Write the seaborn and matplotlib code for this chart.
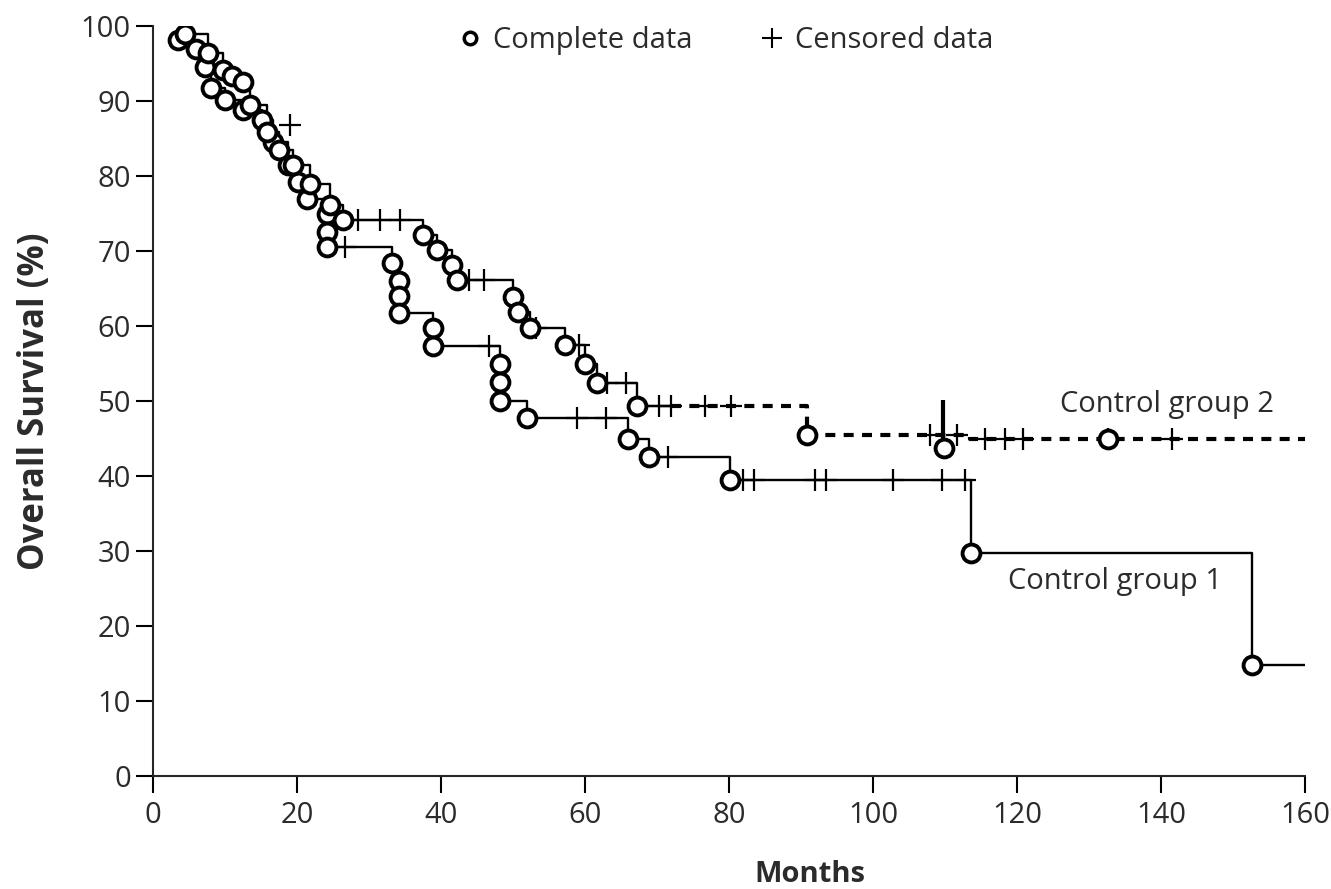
import matplotlib
matplotlib.use("Agg")
import matplotlib.pyplot as plt
import numpy as np
import pandas as pd
import seaborn as sns
from matplotlib.lines import Line2D

# Control group 1: Kaplan-Meier steps (months, % surviving after the step)
g1_time = [3.5, 6.0, 7.2, 8.1, 10.0, 12.5, 15.1, 16.7, 18.8, 20.1, 21.4, 24.2, 24.2, 24.2,
           33.2, 34.2, 34.2, 34.2, 38.9, 38.9, 48.2, 48.2, 48.2, 52.0, 66.0, 68.9, 80.1,
           113.6, 152.6, 160.0]
g1_surv = [98.2, 97.0, 94.5, 91.7, 90.1, 88.8, 87.5, 84.5, 81.5, 79.2, 77.0, 75.0, 72.5, 70.5,
           68.4, 66.0, 64.0, 61.7, 59.7, 57.3, 54.9, 52.5, 50.0, 47.7, 45.0, 42.5, 39.5,
           29.7, 14.8, 14.8]
g1_cens_time = [26.7, 46.7, 58.9, 62.9, 71.5, 81.9, 83.5, 91.9, 93.5, 102.8, 109.6, 112.8]
g1_cens_surv = [70.5, 57.3, 47.7, 47.7, 42.5, 39.5, 39.5, 39.5, 39.5, 39.5, 39.5, 39.5]

# Control group 2
g2_time = [4.5, 7.7, 9.7, 11.0, 12.5, 13.5, 15.8, 17.5, 19.5, 21.8, 24.6, 26.4, 37.5, 39.4,
           41.5, 42.2, 50.0, 50.7, 52.4, 57.2, 60.0, 61.7, 67.2, 90.8, 113.5, 160.0]
g2_surv = [99.0, 96.4, 94.1, 93.3, 92.5, 89.5, 85.9, 83.5, 81.5, 79.0, 76.2, 74.1, 72.1, 70.1,
           68.1, 66.2, 63.9, 61.9, 59.7, 57.5, 54.9, 52.4, 49.3, 45.5, 45.0, 45.0]
g2_extra_time = [109.9, 132.7]   # open circles not on a step
g2_extra_surv = [43.7, 45.0]
g2_cens_time = [19.0, 28.5, 31.5, 34.3, 43.9, 46.0, 53.2, 59.2, 63.0, 65.7, 70.3, 71.9, 76.7,
                80.3, 107.9, 111.7, 115.6, 118.3, 120.8, 132.7, 141.5]
g2_cens_surv = [86.8, 74.1, 74.1, 74.1, 66.2, 66.2, 59.7, 57.5, 52.4, 52.4, 49.3, 49.3, 49.3,
                49.3, 45.5, 45.5, 45.0, 45.0, 45.0, 45.0, 45.0]
g2_bar_time = [109.7]
g2_bar_low = [44.8]
g2_bar_high = [50.1]
g2_dash_from = 72.0

group_labels = ["Control group 2", "Control group 1"]
group_label_x = [126.0, 118.7]
group_label_y = [49.5, 25.9]

x_ticks = list(range(0, 161, 20))
y_ticks = list(range(0, 101, 10))

sns.set_style("ticks")
plt.rcParams["font.family"] = ["Open Sans", "DejaVu Sans"]
txt = "#2b2b2b"

g1 = pd.DataFrame({"t": g1_time, "s": g1_surv})
g2 = pd.DataFrame({"t": g2_time, "s": g2_surv})

# split group 2 into the solid early part and the dashed tail
s_at = g2.loc[g2["t"] <= g2_dash_from, "s"].iloc[-1]
cut = pd.DataFrame({"t": [g2_dash_from], "s": [s_at]})
g2_solid = pd.concat([g2[g2["t"] <= g2_dash_from], cut], ignore_index=True)
g2_dash = pd.concat([cut, g2[g2["t"] > g2_dash_from]], ignore_index=True)

fig = plt.figure(figsize=(13.31, 8.89), dpi=100)
ax = fig.add_axes([153 / 1331, 113 / 889, 1152 / 1331, 750 / 889])

line_kw = dict(x="t", y="s", estimator=None, sort=False, drawstyle="steps-post",
               color="black", ax=ax, legend=False)
sns.lineplot(data=g1, lw=1.7, **line_kw)
sns.lineplot(data=g2_solid, lw=1.7, **line_kw)
sns.lineplot(data=g2_dash, lw=3.0, dashes=False, **line_kw)
ax.lines[-1].set_dashes([2.4, 2.0])

ax.vlines(g2_bar_time, g2_bar_low, g2_bar_high, color="black", lw=3.0)

cens_kw = dict(marker="+", s=230, color="black", linewidth=1.6, ax=ax, legend=False, zorder=3)
sns.scatterplot(x=g1_cens_time, y=g1_cens_surv, **cens_kw)
sns.scatterplot(x=g2_cens_time, y=g2_cens_surv, **cens_kw)

circ_kw = dict(marker="o", s=165, facecolor="white", edgecolor="black", linewidth=2.8,
               ax=ax, legend=False, zorder=4)
sns.scatterplot(data=g1.iloc[:-1], x="t", y="s", **circ_kw)
sns.scatterplot(data=g2[(g2["t"] != 113.5) & (g2["t"] < 160)], x="t", y="s", **circ_kw)
sns.scatterplot(x=g2_extra_time, y=g2_extra_surv, **circ_kw)

for lab, lx, ly in zip(group_labels, group_label_x, group_label_y):
    ax.text(lx, ly, lab, fontsize=21, color=txt, va="center", ha="left")

ax.set_xlim(0, 160)
ax.set_ylim(0, 100)
ax.set_xticks(x_ticks)
ax.set_yticks(y_ticks)
ax.tick_params(axis="both", direction="out", length=12, width=1.5, labelsize=21,
               labelcolor=txt, color="black")
ax.tick_params(axis="y", pad=4)
ax.tick_params(axis="x", pad=6)
sns.despine(ax=ax)
for sp in ["left", "bottom"]:
    ax.spines[sp].set_linewidth(1.5)

ax.set_xlabel("Months", fontsize=21, fontweight="bold", color=txt)
ax.set_ylabel("Overall Survival (%)", fontsize=25, fontweight="bold", color=txt)
ax.xaxis.set_label_coords(0.57, -0.112)
ax.yaxis.set_label_coords(-0.087, 0.5)

handles = [
    Line2D([], [], ls="none", marker="o", markersize=9, markerfacecolor="white",
           markeredgecolor="black", markeredgewidth=2.5),
    Line2D([], [], ls="none", marker="+", markersize=14, color="black", markeredgewidth=1.5),
]
ax.legend(handles, ["Complete data", "Censored data"], loc="center",
          bbox_to_anchor=(0.496, 0.981), ncol=2, frameon=False, fontsize=21,
          handletextpad=0.3, columnspacing=2.2, handlelength=1.0, labelcolor=txt)

fig.savefig("out.png", dpi=100)
